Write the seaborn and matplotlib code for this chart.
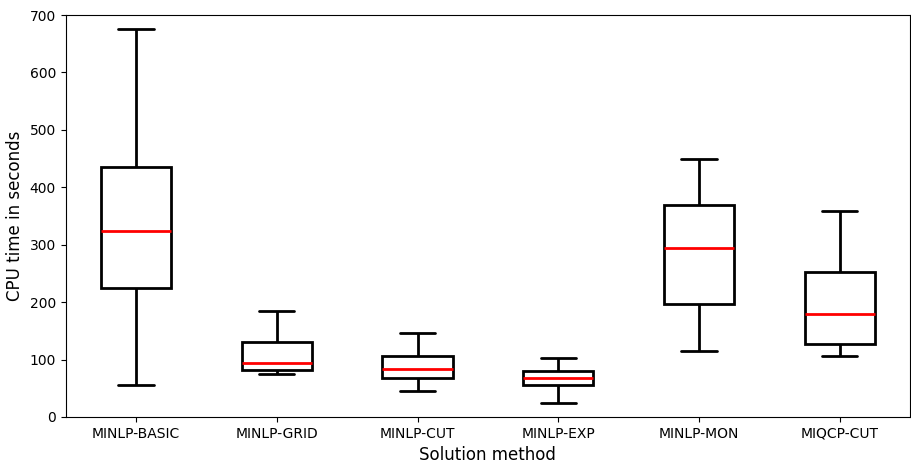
import pandas as pd
import matplotlib
matplotlib.use("Agg")
import matplotlib.pyplot as plt
import seaborn as sns

# five-number summary per method (min, q1, median, q3, max)
methods = ["MINLP-BASIC", "MINLP-GRID", "MINLP-CUT", "MINLP-EXP", "MINLP-MON", "MIQCP-CUT"]
basic = [55, 225, 323, 435, 676]
grid = [74, 81, 94, 131, 185]
cut = [46, 67, 84, 106, 146]
exp_ = [24, 56, 67, 80, 102]
mon = [115, 196, 294, 369, 449]
miqcp = [106, 127, 180, 252, 358]

values = [basic, grid, cut, exp_, mon, miqcp]
df = pd.DataFrame({
    "method": [m for m, v in zip(methods, values) for _ in v],
    "cpu": [x for v in values for x in v],
})

sns.set_style("ticks", {"text.color": "black", "axes.labelcolor": "black",
                        "xtick.color": "black", "ytick.color": "black",
                        "axes.edgecolor": "black"})
plt.rcParams["font.family"] = ["DejaVu Sans"]

fig = plt.figure(figsize=(9.12, 4.69), dpi=100)
ax = fig.add_axes([0.072, 0.111, 0.926, 0.857])

line = dict(color="black", linewidth=2)
sns.boxplot(data=df, x="method", y="cpu", order=methods, whis=(0, 100),
            width=0.5, color="white", ax=ax,
            boxprops=dict(facecolor="white", edgecolor="black", linewidth=2),
            whiskerprops=line, capprops=line,
            medianprops=dict(color="red", linewidth=2))

ax.set_ylim(0, 700)
ax.set_xlabel("Solution method", fontsize=12)
ax.set_ylabel("CPU time in seconds", fontsize=12)
ax.tick_params(labelsize=10, colors="black")
for s in ax.spines.values():
    s.set_visible(True)
    s.set_color("black")

fig.savefig("out.png", dpi=100)
